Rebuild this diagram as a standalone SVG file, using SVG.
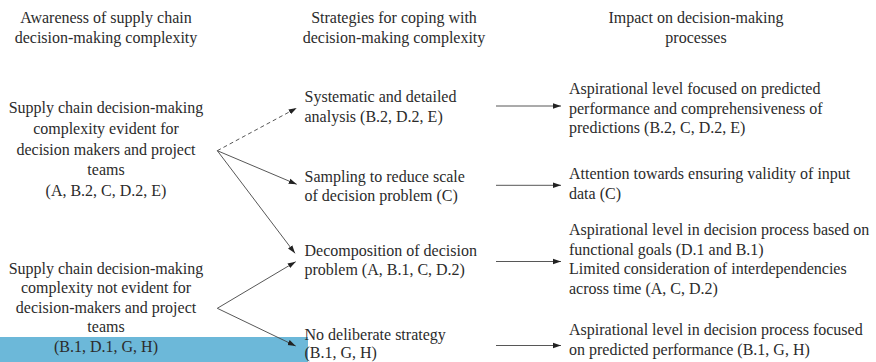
<svg xmlns="http://www.w3.org/2000/svg" width="876" height="362" viewBox="0 0 876 362">
<defs>
<marker id="ah" markerUnits="userSpaceOnUse" markerWidth="9" markerHeight="7" refX="8" refY="3.5" orient="auto">
<path d="M0,0.8 L8,3.5 L0,6.2 Z" fill="#222"/>
</marker>
</defs>
<rect x="0" y="337" width="308" height="25" fill="#6cb8d9"/>
<g font-size="16" fill="#2b2b2b" font-family="Liberation Serif">
<g id="headers" text-anchor="middle">
<text style="font-family:'Liberation Serif',serif !important" x="106" y="23">Awareness of supply chain</text>
<text style="font-family:'Liberation Serif',serif !important" x="106" y="43">decision-making complexity</text>
<text style="font-family:'Liberation Serif',serif !important" x="394" y="23">Strategies for coping with</text>
<text style="font-family:'Liberation Serif',serif !important" x="394" y="43">decision-making complexity</text>
<text style="font-family:'Liberation Serif',serif !important" x="696" y="23">Impact on decision-making</text>
<text style="font-family:'Liberation Serif',serif !important" x="696" y="43">processes</text>
</g>
<g id="aware-evident" text-anchor="middle">
<text style="font-family:'Liberation Serif',serif !important" x="106" y="113">Supply chain decision-making</text>
<text style="font-family:'Liberation Serif',serif !important" x="106" y="134">complexity evident for</text>
<text style="font-family:'Liberation Serif',serif !important" x="106" y="154.5">decision makers and project</text>
<text style="font-family:'Liberation Serif',serif !important" x="106" y="175">teams</text>
<text style="font-family:'Liberation Serif',serif !important" x="106" y="195.5">(A, B.2, C, D.2, E)</text>
</g>
<g id="aware-not-evident" text-anchor="middle">
<text style="font-family:'Liberation Serif',serif !important" x="106" y="273.5">Supply chain decision-making</text>
<text style="font-family:'Liberation Serif',serif !important" x="106" y="293">complexity not evident for</text>
<text style="font-family:'Liberation Serif',serif !important" x="106" y="312.5">decision-makers and project</text>
<text style="font-family:'Liberation Serif',serif !important" x="106" y="332">teams</text>
<text style="font-family:'Liberation Serif',serif !important" x="106" y="351.5">(B.1, D.1, G, H)</text>
</g>
<g id="strat-systematic">
<text style="font-family:'Liberation Serif',serif !important" x="304.5" y="101.5">Systematic and detailed</text>
<text style="font-family:'Liberation Serif',serif !important" x="304.5" y="121.5">analysis (B.2, D.2, E)</text>
</g>
<g id="strat-sampling">
<text style="font-family:'Liberation Serif',serif !important" x="304.5" y="181.5">Sampling to reduce scale</text>
<text style="font-family:'Liberation Serif',serif !important" x="304.5" y="201">of decision problem (C)</text>
</g>
<g id="strat-decomposition">
<text style="font-family:'Liberation Serif',serif !important" x="304.5" y="256">Decomposition of decision</text>
<text style="font-family:'Liberation Serif',serif !important" x="304.5" y="275">problem (A, B.1, C, D.2)</text>
</g>
<g id="strat-none">
<text style="font-family:'Liberation Serif',serif !important" x="304.5" y="340">No deliberate strategy</text>
<text style="font-family:'Liberation Serif',serif !important" x="304.5" y="358">(B.1, G, H)</text>
</g>
<g id="impact-1">
<text style="font-family:'Liberation Serif',serif !important" x="569" y="93.5">Aspirational level focused on predicted</text>
<text style="font-family:'Liberation Serif',serif !important" x="569" y="113.5">performance and comprehensiveness of</text>
<text style="font-family:'Liberation Serif',serif !important" x="569" y="133">predictions (B.2, C, D.2, E)</text>
</g>
<g id="impact-2">
<text style="font-family:'Liberation Serif',serif !important" x="569" y="178.5">Attention towards ensuring validity of input</text>
<text style="font-family:'Liberation Serif',serif !important" x="569" y="198.5">data (C)</text>
</g>
<g id="impact-3">
<text style="font-family:'Liberation Serif',serif !important" x="569" y="235">Aspirational level in decision process based on</text>
<text style="font-family:'Liberation Serif',serif !important" x="569" y="255">functional goals (D.1 and B.1)</text>
<text style="font-family:'Liberation Serif',serif !important" x="569" y="274">Limited consideration of interdependencies</text>
<text style="font-family:'Liberation Serif',serif !important" x="569" y="293.5">across time (A, C, D.2)</text>
</g>
<g id="impact-4">
<text style="font-family:'Liberation Serif',serif !important" x="569" y="335">Aspirational level in decision process focused</text>
<text style="font-family:'Liberation Serif',serif !important" x="569" y="355">on predicted performance (B.1, G, H)</text>
</g>
</g>
<g id="connectors" stroke="#444" stroke-width="0.9" fill="none">
<line stroke-dasharray="4 3" x1="217.3" y1="150.7" x2="296.7" y2="108" marker-end="url(#ah)"/>
<line x1="217.3" y1="150.7" x2="296.7" y2="184.3" marker-end="url(#ah)"/>
<line x1="217.3" y1="150.7" x2="295" y2="253.3" marker-end="url(#ah)"/>
<line x1="217.3" y1="308.3" x2="295.7" y2="261.7" marker-end="url(#ah)"/>
<line x1="217.3" y1="308.3" x2="295.7" y2="346" marker-end="url(#ah)"/>
<line x1="496" y1="106" x2="561" y2="106" marker-end="url(#ah)"/>
<line x1="496" y1="185.3" x2="561" y2="185.3" marker-end="url(#ah)"/>
<line x1="496" y1="261.5" x2="561" y2="261.5" marker-end="url(#ah)"/>
<line x1="496" y1="345.5" x2="561" y2="345.5" marker-end="url(#ah)"/>
</g>
</svg>
